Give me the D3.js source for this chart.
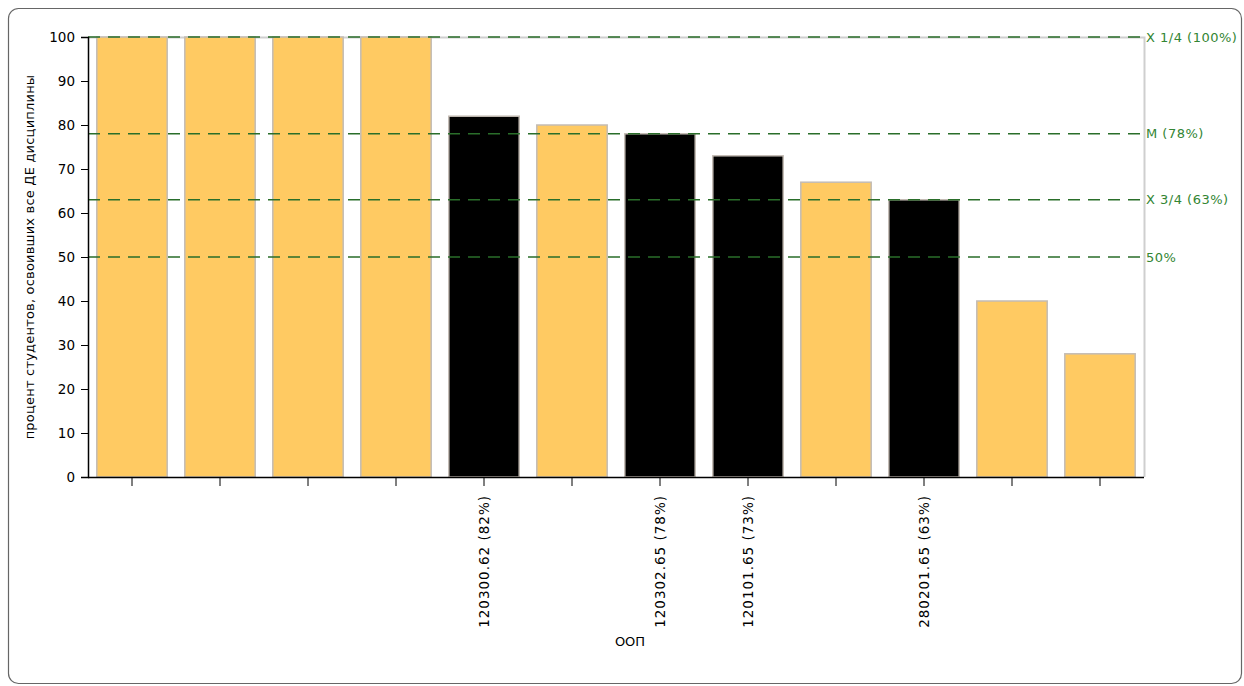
<!DOCTYPE html>
<html><head><meta charset="utf-8">
<script src="https://cdn.jsdelivr.net/npm/d3@7"></script>
<style>body{margin:0;background:#fff}svg{display:block}text{font-family:"DejaVu Sans",sans-serif}</style>
</head><body><svg id="c" width="1244" height="686"></svg>
<script>
const categories = ["a1","a2","a3","a4","120300.62 (82%)","a6","120302.65 (78%)","120101.65 (73%)","a9","280201.65 (63%)","a11","a12"];
const values = [100,100,100,100,82,80,78,73,67,63,40,28];
const highlighted = [false,false,false,false,true,false,true,true,false,true,false,false];
const refValues = [100,78,63,50];
const refLabels = ["X 1/4 (100%)","M (78%)","X 3/4 (63%)","50%"];
const yTicks = [0,10,20,30,40,50,60,70,80,90,100];
const yTitle = "процент студентов, освоивших все ДЕ дисциплины";
const xTitle = "ООП";

const svg = d3.select("#c");
const L=88,R=1144,T=37,B=477;
svg.append("rect").attr("x",8.5).attr("y",8.5).attr("width",1233).attr("height",675).attr("rx",10)
  .attr("fill","#fff").attr("stroke","#666").attr("stroke-width",1.2);

const x = d3.scaleBand().domain(categories).range([L,R]).paddingInner(0.2).paddingOuter(0.1);
const y = d3.scaleLinear().domain([0,100]).range([B,T]);

svg.append("path").attr("d",`M${L},${T+0.5}H${R+0.5}V${B}`).attr("fill","none").attr("stroke","#cfcfcf").attr("stroke-width",2);

svg.append("g").selectAll("rect").data(values).join("rect")
  .attr("x",(d,i)=>x(categories[i]))
  .attr("y",d=>y(d))
  .attr("width",x.bandwidth())
  .attr("height",d=>B-y(d))
  .attr("fill",(d,i)=>highlighted[i]?"#000":"#ffca62")
  .attr("stroke","#c4bcb4").attr("stroke-width",1.5);

const rg = svg.append("g");
refValues.forEach((v,i)=>{
  rg.append("line").attr("x1",L).attr("x2",R).attr("y1",y(v)).attr("y2",y(v))
    .attr("stroke","#2a6e2a").attr("stroke-width",1.4).attr("stroke-dasharray","12,8");
  rg.append("text").attr("x",R+2).attr("y",y(v)).attr("dy","0.35em")
    .attr("fill","#338533").attr("font-size",13).attr("letter-spacing",0.5).text(refLabels[i]);
});

const ya = svg.append("g").attr("transform",`translate(${L},0)`)
  .call(d3.axisLeft(y).tickValues(yTicks).tickSize(7).tickPadding(6));
ya.select(".domain").attr("stroke","#000").attr("stroke-width",1.5);
ya.selectAll("text").attr("font-size",13.5).attr("fill","#000").attr("font-family","DejaVu Sans Condensed, DejaVu Sans");

const xa = svg.append("g").attr("transform",`translate(0,${B})`)
  .call(d3.axisBottom(x).tickSize(9).tickFormat((d,i)=>highlighted[i]?d:""));
xa.select(".domain").attr("stroke","#000").attr("stroke-width",1.5).attr("d",`M${L},0.5H${R}`);
xa.selectAll(".tick line").attr("stroke","#000");
xa.selectAll("text").attr("font-size",13.5).attr("letter-spacing",1).attr("fill","#000")
  .attr("transform","rotate(-90)").attr("text-anchor","end").attr("x",-18).attr("y",0).attr("dy","0.35em");

svg.append("text").attr("transform",`translate(34,257) rotate(-90)`).attr("text-anchor","middle")
  .attr("font-size",13).attr("letter-spacing",0.2).attr("fill","#000").text(yTitle);
svg.append("text").attr("x",630).attr("y",646).attr("text-anchor","middle")
  .attr("font-size",13).attr("fill","#000").text(xTitle);
</script></body></html>
